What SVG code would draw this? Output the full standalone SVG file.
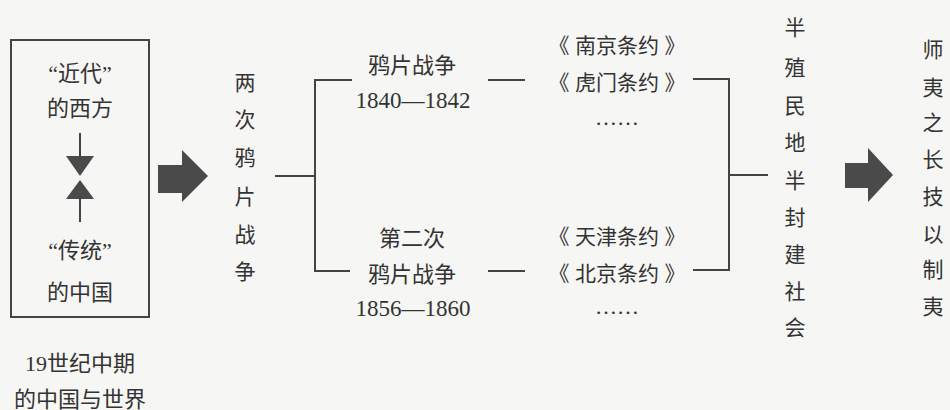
<svg xmlns="http://www.w3.org/2000/svg" width="950" height="410" viewBox="0 0 950 410">
<style>
text{font-family:"Liberation Serif","Noto Sans CJK SC",serif;font-size:22px;fill:#333;text-anchor:middle;dominant-baseline:central}
.cjk{font-family:"Noto Sans CJK SC",sans-serif;font-size:21px}
.num{font-size:23px}
.v{font-size:21px}
.ln{stroke:#444;stroke-width:2;fill:none}
.ar{fill:#4a4a4a}
</style>
<rect width="950" height="410" fill="#f6f6f4"/>
<g id="box">
<rect x="11" y="40" width="138" height="277" class="ln"/>
<text x="80" y="73">“近代”</text>
<text x="80" y="108">的西方</text>
<line x1="80" y1="133" x2="80" y2="158" class="ln" stroke-width="3"/>
<polygon points="66,156 94,156 80,176" class="ar"/>
<polygon points="66,199 94,199 80,180" class="ar"/>
<line x1="80" y1="197" x2="80" y2="222" class="ln" stroke-width="3"/>
<text x="80" y="250">“传统”</text>
<text x="80" y="292">的中国</text>
</g>
<g id="caption">
<text x="80" y="363">19世纪中期</text>
<text x="80" y="399">的中国与世界</text>
</g>
<g id="arrow1"><polygon points="158,165 182,165 182,150 208,176 182,202 182,193 158,193" class="ar"/></g>
<g id="wars">
<text x="245" y="83" class="v">两</text><text x="245" y="120" class="v">次</text><text x="245" y="158" class="v">鸦</text><text x="245" y="197" class="v">片</text><text x="245" y="235" class="v">战</text><text x="245" y="272" class="v">争</text>
</g>
<g id="war1">
<text x="412" y="65">鸦片战争</text>
<text x="413" y="100" class="num">1840—1842</text>
</g>
<g id="war2">
<text x="412" y="238">第二次</text>
<text x="412" y="274">鸦片战争</text>
<text x="413" y="308" class="num">1856—1860</text>
</g>
<g id="treaties1">
<text y="44" class="cjk"><tspan x="559">《</tspan><tspan x="617">南京条约</tspan><tspan x="675">》</tspan></text>
<text y="81" class="cjk"><tspan x="559">《</tspan><tspan x="617">虎门条约</tspan><tspan x="675">》</tspan></text>
<text x="617" y="117">……</text>
</g>
<g id="treaties2">
<text y="235" class="cjk"><tspan x="559">《</tspan><tspan x="617">天津条约</tspan><tspan x="675">》</tspan></text>
<text y="272" class="cjk"><tspan x="559">《</tspan><tspan x="617">北京条约</tspan><tspan x="675">》</tspan></text>
<text x="617" y="306">……</text>
</g>
<g id="society">
<text x="795" y="28" class="v">半</text><text x="795" y="68" class="v">殖</text><text x="795" y="106" class="v">民</text><text x="795" y="143" class="v">地</text><text x="795" y="181" class="v">半</text><text x="795" y="218" class="v">封</text><text x="795" y="255" class="v">建</text><text x="795" y="292" class="v">社</text><text x="795" y="328" class="v">会</text>
</g>
<g id="arrow2"><polygon points="845,163 868,163 868,148 893,175 868,202 868,188 845,188" class="ar"/></g>
<g id="idea">
<text x="933" y="50" class="v">师</text><text x="933" y="88" class="v">夷</text><text x="933" y="123" class="v">之</text><text x="933" y="160" class="v">长</text><text x="933" y="197" class="v">技</text><text x="933" y="235" class="v">以</text><text x="933" y="270" class="v">制</text><text x="933" y="307" class="v">夷</text>
</g>
<g id="connectors">
<path d="M275,176 H315 M352,80 H315 V271 H350" class="ln"/>
<line x1="488" y1="80" x2="525" y2="80" class="ln"/>
<line x1="488" y1="271" x2="525" y2="271" class="ln"/>
<path d="M693,79 H729 V270 H693 M729,175 H768" class="ln"/>
</g>
</svg>
